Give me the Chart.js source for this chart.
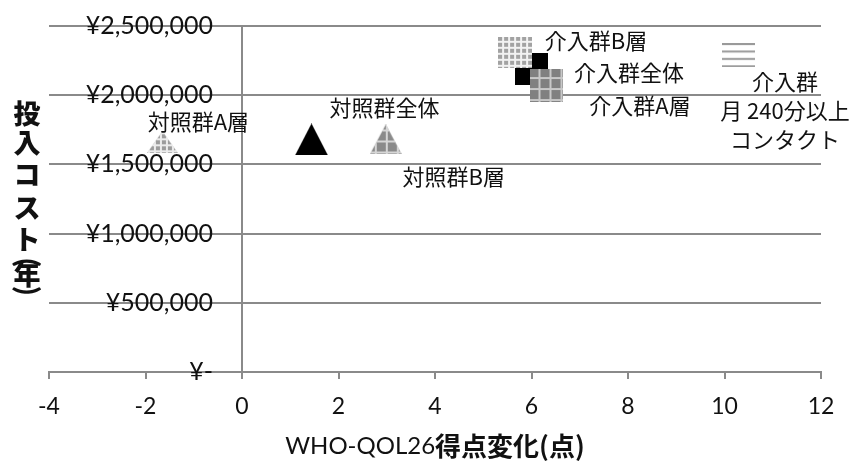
<!DOCTYPE html>
<html>
<head>
<meta charset="utf-8">
<script src="https://cdn.jsdelivr.net/npm/chart.js@4/dist/chart.umd.min.js"></script>
<style>
  html, body { margin: 0; padding: 0; background: #ffffff; }
  #wrap { width: 851px; height: 463px; }
</style>
</head>
<body>
<div id="wrap"><canvas id="c" width="851" height="463"></canvas></div>
<script>
// ---- data ----
const groupNames = ['対照群全体', '対照群A層', '対照群B層', '介入群全体', '介入群B層', '介入群A層', '介入群 月240分以上コンタクト'];
const labelLines = [['対照群全体'], ['対照群A層'], ['対照群B層'], ['介入群全体'], ['介入群B層'], ['介入群A層'], ['介入群', '月 240分以上', 'コンタクト']];
const qolChange = [1.44, -1.65, 2.98, 5.99, 5.66, 6.32, 10.30];
const annualCost = [1680000, 1660000, 1680000, 2190000, 2310000, 2070000, 2290000];
const xTickValues = [-4, -2, 0, 2, 4, 6, 8, 10, 12];
const yTickValues = [0, 500000, 1000000, 1500000, 2000000, 2500000];
const xTitleLatin = 'WHO-QOL26';
const xTitleJa = '得点変化(点)';
const yTitleChars = ['投', '入', 'コ', 'ス', 'ト', '(', '年', ')'];

// ---- styling ----
const GRID = '#8a8a8a';
const TEXT = '#111111';
const X_TICK_FONT = { family: 'Lato', size: 23 };
const Y_TICK_FONT = { family: 'Lato', size: 25 };
const JA = '"Noto Sans CJK JP"';

// marker pictures (canvas images used as point styles)
function newCanvas(w, h) {
  const c = document.createElement('canvas');
  c.width = w; c.height = h;
  return c;
}
function paintGrid(g, w, h, base, line, cell, lw, off) {
  g.fillStyle = base;
  g.fillRect(0, 0, w, h);
  if (!line) return;
  g.fillStyle = line;
  for (let x = off; x < w; x += cell) g.fillRect(x, 0, lw, h);
  for (let y = off; y < h; y += cell) g.fillRect(0, y, w, lw);
}
function triangleMarker(s) {
  const c = newCanvas(s.w, s.h), g = c.getContext('2d');
  g.beginPath();
  g.moveTo(s.w / 2, 0); g.lineTo(s.w, s.h); g.lineTo(0, s.h); g.closePath();
  g.clip();
  paintGrid(g, s.w, s.h, s.base, s.line, s.cell, s.lw, s.off);
  return c;
}
function squareMarker(s) {
  const c = newCanvas(s.w, s.h), g = c.getContext('2d');
  paintGrid(g, s.w, s.h, s.base, s.line, s.cell, s.lw, s.off);
  return c;
}
function stripeMarker(s) {
  const c = newCanvas(s.w, s.h), g = c.getContext('2d');
  g.fillStyle = s.base;
  for (let y = 0; y < s.h; y += s.gap) g.fillRect(0, y, s.w, s.lw);
  return c;
}
const markerSpecs = [
  { kind: 'tri', w: 33, h: 32, base: '#000000' },
  { kind: 'tri', w: 31, h: 22, base: '#9c9c9c', line: '#ececec', cell: 6, lw: 2, off: 1 },
  { kind: 'tri', w: 32, h: 30, base: '#8a8a8a', line: '#d6d6d6', cell: 11, lw: 2, off: 5 },
  { kind: 'sq', w: 33, h: 32, base: '#000000' },
  { kind: 'sq', w: 34, h: 31, base: '#a2a2a2', line: '#f2f2f2', cell: 6, lw: 2, off: 4 },
  { kind: 'sq', w: 33, h: 33, base: '#808080', line: '#c8c8c8', cell: 11, lw: 2, off: 8 },
  { kind: 'stripe', w: 33, h: 24, base: '#9a9a9a', lw: 2, gap: 7.4 }
];
const markerImages = markerSpecs.map(s =>
  s.kind === 'tri' ? triangleMarker(s) : s.kind === 'sq' ? squareMarker(s) : stripeMarker(s));

// value label placement next to each marker
const labelOffsets = [[73, -32], [36, -21], [68, 37], [98, 4], [81, -12], [93, 20], [46, 27]];

function yTickText(v) {
  return v === 0 ? '¥-' : '¥' + v.toLocaleString('en-US');
}

// right edge of the cost labels
const Y_LABEL_RIGHT = 213;
const CHART_LEFT = 49;
const measureCtx = newCanvas(10, 10).getContext('2d');
measureCtx.font = `normal ${Y_TICK_FONT.size}px ${Y_TICK_FONT.family}`;
const widestYLabel = Math.max(...yTickValues.map(v => measureCtx.measureText(yTickText(v)).width));

const pointLabelPlugin = {
  id: 'pointLabels',
  afterDatasetsDraw(chart) {
    const ctx = chart.ctx;
    const meta = chart.getDatasetMeta(0);
    ctx.save();
    ctx.font = `22px ${JA}`;
    ctx.fillStyle = TEXT;
    ctx.textAlign = 'center';
    ctx.textBaseline = 'middle';
    meta.data.forEach((pt, i) => {
      const [dx, dy] = labelOffsets[i];
      labelLines[i].forEach((line, k) => ctx.fillText(line, pt.x + dx, pt.y + dy + k * 29));
    });
    ctx.restore();
  }
};

const axisTitlePlugin = {
  id: 'axisTitles',
  afterDraw(chart) {
    const ctx = chart.ctx;
    const area = chart.chartArea;
    ctx.save();
    ctx.fillStyle = TEXT;
    ctx.textBaseline = 'middle';
    // x title: latin part regular, japanese part bold
    const latinFont = `24px Lato`;
    const jaFont = `bold 26px ${JA}`;
    ctx.font = latinFont;
    const w1 = ctx.measureText(xTitleLatin).width;
    ctx.font = jaFont;
    const w2 = ctx.measureText(xTitleJa).width;
    const cx = (area.left + area.right) / 2;
    const ty = area.bottom + 74;
    const x0 = cx - (w1 + w2) / 2;
    ctx.textAlign = 'left';
    ctx.font = latinFont;
    ctx.fillText(xTitleLatin, x0, ty);
    ctx.font = jaFont;
    ctx.fillText(xTitleJa, x0 + w1, ty);

    // y title: stacked vertically, brackets turned sideways
    const midY = (area.top + area.bottom) / 2;
    const steps = [-85, -56.5, -24.5, 8.5, 41, 63.5, 76, 91.5];
    ctx.textAlign = 'center';
    yTitleChars.forEach((ch, i) => {
      const y = midY + steps[i];
      if (ch === '(' || ch === ')') {
        ctx.save();
        ctx.translate(27, y);
        ctx.rotate(Math.PI / 2);
        ctx.font = 'bold 30px Lato';
        ctx.fillText(ch, 0, 0);
        ctx.restore();
      } else {
        ctx.font = `900 27px ${JA}`;
        ctx.fillText(ch, 27, y);
      }
    });
    ctx.restore();
  }
};

new Chart(document.getElementById('c'), {
  type: 'scatter',
  data: {
    datasets: [{
      label: '投入コスト',
      data: qolChange.map((x, i) => ({ x, y: annualCost[i] })),
      pointStyle: markerImages,
      pointRadius: 12,
      pointHoverRadius: 12,
      showLine: false
    }]
  },
  options: {
    responsive: false,
    animation: false,
    events: [],
    layout: { padding: { left: CHART_LEFT, right: 30, top: 26, bottom: 0 } },
    plugins: {
      legend: { display: false },
      tooltip: { enabled: false }
    },
    scales: {
      x: {
        type: 'linear',
        position: 'bottom',
        min: -4,
        max: 12,
        afterBuildTicks: s => { s.ticks = xTickValues.map(v => ({ value: v })); },
        afterFit: s => { s.height = 91; },
        grid: {
          color: c => (c.tick && c.tick.value === 0) ? GRID : 'rgba(0,0,0,0)',
          tickColor: GRID,
          lineWidth: 2,
          tickLength: 7
        },
        border: { display: true, color: GRID, width: 2 },
        ticks: { padding: 14, font: X_TICK_FONT, color: TEXT, maxRotation: 0, autoSkip: false }
      },
      y: {
        type: 'linear',
        position: 'left',
        min: 0,
        max: 2500000,
        afterBuildTicks: s => { s.ticks = yTickValues.map(v => ({ value: v })); },
        afterFit: s => { s.width = 0; s.paddingTop = 0; s.paddingBottom = 0; },
        grid: { color: GRID, lineWidth: 2, drawTicks: false },
        border: { display: false },
        ticks: {
          mirror: true,
          crossAlign: 'far',
          padding: Y_LABEL_RIGHT - CHART_LEFT - widestYLabel,
          font: Y_TICK_FONT,
          color: TEXT,
          callback: v => yTickText(v)
        }
      }
    }
  },
  plugins: [pointLabelPlugin, axisTitlePlugin]
});
</script>
</body>
</html>
